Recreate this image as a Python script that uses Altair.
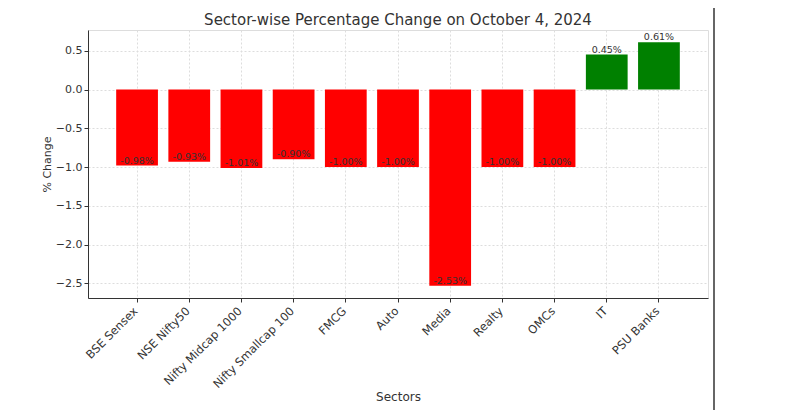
import altair as alt
import pandas as pd

sectors = ["BSE Sensex", "NSE Nifty50", "Nifty Midcap 1000", "Nifty Smallcap 100",
           "FMCG", "Auto", "Media", "Realty", "OMCs", "IT", "PSU Banks"]
changes = [-0.98, -0.93, -1.01, -0.90, -1.00, -1.00, -2.53, -1.00, -1.00, 0.45, 0.61]

df = pd.DataFrame({"Sector": sectors, "Change": changes})
df["Label"] = [f"{v:.2f}%" for v in changes]
df["Sign"] = ["neg" if v < 0 else "pos" for v in changes]

FONT = "DejaVu Sans"

xenc = alt.X("Sector:N", sort=sectors, title="Sectors",
             scale=alt.Scale(paddingInner=0.2, paddingOuter=0.54),
             axis=alt.Axis(labelAngle=-45, labelAlign="right", labelBaseline="top",
                           labelFont=FONT, labelFontSize=11.5, labelColor="#333333",
                           labelOffset=-5,
                           titleFont=FONT, titleFontSize=12, titleFontWeight="normal",
                           titleColor="#333333", titlePadding=1,
                           grid=True, gridDash=[2, 2], gridColor="#dddddd",
                           domainColor="#333333", tickColor="#333333", tickSize=4,
                           labelPadding=3))
yscale = alt.Scale(domain=[-2.687, 0.767], nice=False, zero=False)

bars = alt.Chart(df).mark_bar().encode(
    x=xenc,
    y=alt.Y("Change:Q", scale=yscale, title="% Change",
            axis=alt.Axis(values=[0.5, 0.0, -0.5, -1.0, -1.5, -2.0, -2.5], format=".1f",
                          labelFont=FONT, labelFontSize=11, labelColor="#333333",
                          titleFont=FONT, titleFontSize=11, titleFontWeight="normal",
                          titleColor="#333333", titlePadding=3,
                          grid=True, gridDash=[2, 2], gridColor="#dddddd",
                          domainColor="#333333", tickColor="#333333", tickSize=4)),
    y2=alt.datum(0),
    color=alt.Color("Sign:N", scale=alt.Scale(domain=["neg", "pos"], range=["#ff0000", "#008000"]),
                    legend=None),
)

labels = alt.Chart(df).mark_text(baseline="bottom", font=FONT, fontSize=9.5, color="#333333", dy=0).encode(
    x=alt.X("Sector:N", sort=sectors),
    y=alt.Y("Change:Q", scale=yscale),
    text="Label:N",
)

border = alt.Chart(df).mark_rule(color="#666666", strokeWidth=2).encode(
    x=alt.value(626), y=alt.value(-25), y2=alt.value(380)
)

chart = alt.layer(bars, labels, border).properties(
    width=620, height=268,
    title=alt.TitleParams("Sector-wise Percentage Change on October 4, 2024",
                          font=FONT, fontSize=15, fontWeight="normal", color="#333333",
                          offset=6, dy=30),
    autosize=alt.AutoSizeParams(type="none"),
    padding={"left": 80, "top": 22, "right": 70, "bottom": 120},
).configure_view(stroke=None).configure(background="white")

chart.save("out.html", embed_options={"renderer": "svg", "actions": False})
